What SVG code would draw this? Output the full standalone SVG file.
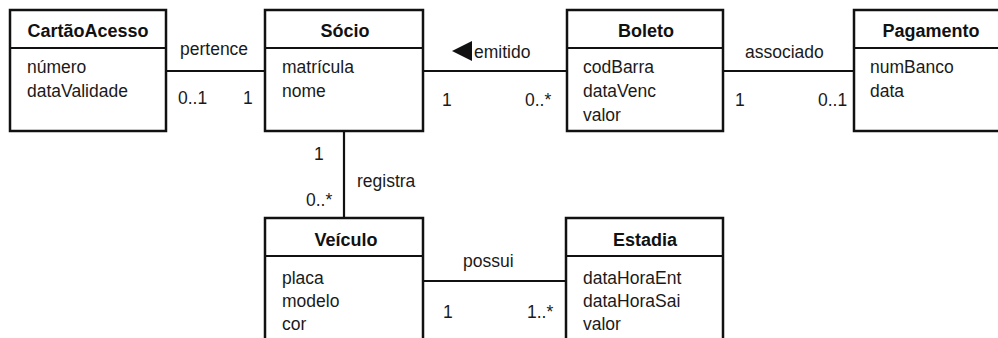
<svg xmlns="http://www.w3.org/2000/svg" width="998" height="338" viewBox="0 0 998 338">
<style>
.box{fill:#fff;stroke:#111;stroke-width:2.5}
.div{stroke:#111;stroke-width:2}
.t{font-family:"Liberation Sans",Arial,sans-serif;font-size:18px;font-weight:bold;fill:#111;text-anchor:middle}
.a{font-family:"Liberation Sans",Arial,sans-serif;font-size:17.5px;fill:#1a1a1a}
.l{font-family:"Liberation Sans",Arial,sans-serif;font-size:17.5px;fill:#1a1a1a}
.c{stroke:#111;stroke-width:2.2;fill:none}
</style>
<rect width="998" height="338" fill="#fff"/>
<g id="connectors">
<line class="c" x1="166" y1="71" x2="265" y2="71"/>
<line class="c" x1="423" y1="71" x2="567" y2="71"/>
<line class="c" x1="723" y1="71" x2="854" y2="71"/>
<line class="c" x1="344" y1="131" x2="344" y2="218"/>
<line class="c" x1="423" y1="281" x2="566" y2="281"/>
<text class="l" x="180" y="55">pertence</text>
<text class="l" x="178" y="104">0..1</text>
<text class="l" x="243" y="104">1</text>
<polygon points="452,51 472,41 472,61" fill="#111"/>
<text class="l" x="474" y="58">emitido</text>
<text class="l" x="442" y="106">1</text>
<text class="l" x="525" y="106">0..*</text>
<text class="l" x="745" y="58">associado</text>
<text class="l" x="735" y="106">1</text>
<text class="l" x="818" y="106">0..1</text>
<text class="l" x="314" y="160">1</text>
<text class="l" x="357" y="187">registra</text>
<text class="l" x="306" y="206">0..*</text>
<text class="l" x="463" y="267">possui</text>
<text class="l" x="443" y="318">1</text>
<text class="l" x="527" y="318">1..*</text>
</g>
<g id="CartaoAcesso">
<rect class="box" x="10" y="10" width="156" height="121"/>
<line class="div" x1="10" y1="48" x2="166" y2="48"/>
<text class="t" x="88" y="37">CartãoAcesso</text>
<text class="a" x="27" y="73">número</text>
<text class="a" x="27" y="97">dataValidade</text>
</g>
<g id="Socio">
<rect class="box" x="265" y="10" width="158" height="121"/>
<line class="div" x1="265" y1="48" x2="423" y2="48"/>
<text class="t" x="345" y="37">Sócio</text>
<text class="a" x="282" y="73">matrícula</text>
<text class="a" x="282" y="97">nome</text>
</g>
<g id="Boleto">
<rect class="box" x="567" y="10" width="156" height="121"/>
<line class="div" x1="567" y1="48" x2="723" y2="48"/>
<text class="t" x="646" y="37">Boleto</text>
<text class="a" x="583" y="73">codBarra</text>
<text class="a" x="583" y="97">dataVenc</text>
<text class="a" x="583" y="121">valor</text>
</g>
<g id="Pagamento">
<rect class="box" x="854" y="10" width="160" height="121"/>
<line class="div" x1="854" y1="48" x2="1014" y2="48"/>
<text class="t" x="931" y="37">Pagamento</text>
<text class="a" x="870" y="73">numBanco</text>
<text class="a" x="870" y="97">data</text>
</g>
<g id="Veiculo">
<rect class="box" x="265" y="218" width="158" height="130"/>
<line class="div" x1="265" y1="256" x2="423" y2="256"/>
<text class="t" x="346" y="246">Veículo</text>
<text class="a" x="282" y="284">placa</text>
<text class="a" x="282" y="307">modelo</text>
<text class="a" x="282" y="330">cor</text>
</g>
<g id="Estadia">
<rect class="box" x="566" y="218" width="157" height="130"/>
<line class="div" x1="566" y1="256" x2="723" y2="256"/>
<text class="t" x="645" y="246">Estadia</text>
<text class="a" x="583" y="284">dataHoraEnt</text>
<text class="a" x="583" y="307">dataHoraSai</text>
<text class="a" x="583" y="330">valor</text>
</g>
</svg>
